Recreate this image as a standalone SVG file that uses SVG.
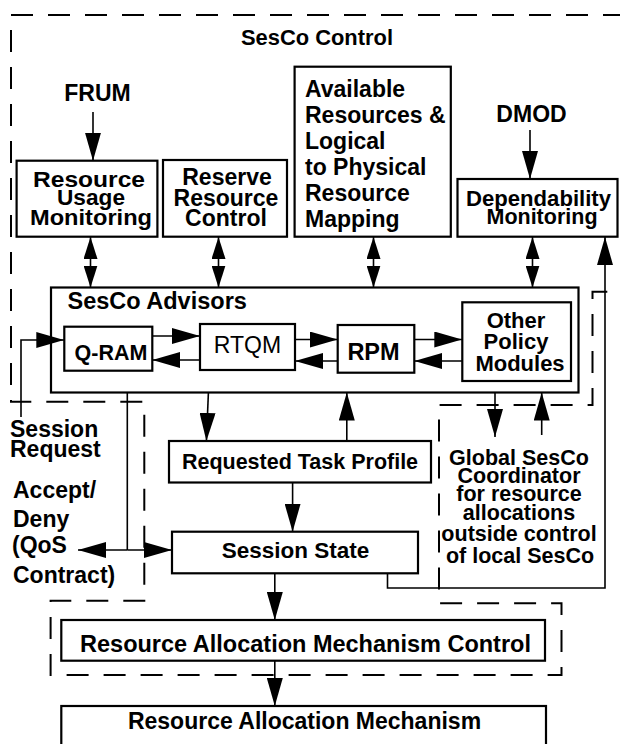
<svg xmlns="http://www.w3.org/2000/svg" width="620" height="744" viewBox="0 0 620 744">
<defs>
<style>
.box{fill:#fff;stroke:#000;stroke-width:2.2}
.dash{fill:none;stroke:#000;stroke-width:2;stroke-dasharray:22 15}
.ln{fill:none;stroke:#000;stroke-width:1.6}
.t{font-family:"Liberation Sans",Arial,Helvetica,sans-serif;font-weight:bold;font-size:23px;fill:#000}
.m{text-anchor:middle}
.reg{font-weight:normal}
.s22{font-size:22px}
.g{font-size:21.5px}
</style>
<marker id="ah" markerUnits="userSpaceOnUse" viewBox="0 0 28 16" markerWidth="28" markerHeight="16" refX="28" refY="8" orient="auto-start-reverse"><path d="M0,0 L28,8 L0,16 z" fill="#000"/></marker>
<marker id="ahs" markerUnits="userSpaceOnUse" viewBox="0 0 22 14" markerWidth="22" markerHeight="14" refX="22" refY="7" orient="auto-start-reverse"><path d="M0,0 L22,7 L0,14 z" fill="#000"/></marker>
</defs>
<rect width="620" height="744" fill="#fff"/>

<g id="sesco-control-region">
<path class="dash" d="M625 15 H11 V401.7 H144.3 V600.7 H50.6 V675 H561.5 V603.3 H439 V405 H592.5 V291.7 H625"/>
<text class="t" x="241" y="45" style="font-size:22px" textLength="152" lengthAdjust="spacingAndGlyphs">SesCo Control</text>
</g>

<g id="frum"><text class="t m" x="97.5" y="101">FRUM</text></g>
<g id="dmod"><text class="t m" x="531.5" y="122">DMOD</text></g>

<g id="resource-usage-monitoring">
<rect class="box" x="16.6" y="160.7" width="140.8" height="76"/>
<text class="t m s22" x="89" y="187" textLength="112" lengthAdjust="spacingAndGlyphs">Resource</text>
<text class="t m s22" x="91" y="205" textLength="68" lengthAdjust="spacingAndGlyphs">Usage</text>
<text class="t m s22" x="91" y="225" textLength="122" lengthAdjust="spacingAndGlyphs">Monitoring</text>
</g>

<g id="reserve-resource-control">
<rect class="box" x="163" y="160" width="124" height="76.7"/>
<text class="t m" x="227" y="185">Reserve</text>
<text class="t m" x="226" y="206">Resource</text>
<text class="t m" x="226" y="226">Control</text>
</g>

<g id="available-resources">
<rect class="box" x="294.6" y="66.7" width="156.2" height="170"/>
<text class="t" x="305" y="97">Available</text>
<text class="t" x="305" y="123">Resources &amp;</text>
<text class="t" x="305" y="149">Logical</text>
<text class="t" x="305" y="175">to Physical</text>
<text class="t" x="305" y="201">Resource</text>
<text class="t" x="305" y="227">Mapping</text>
</g>

<g id="dependability-monitoring">
<rect class="box" x="457.5" y="179" width="160" height="57.7"/>
<text class="t m g" x="538.5" y="206" textLength="145" lengthAdjust="spacingAndGlyphs">Dependability</text>
<text class="t m g" x="542" y="224">Monitoring</text>
</g>

<g id="sesco-advisors">
<rect class="box" x="51" y="287.5" width="527.5" height="105"/>
<text class="t" style="font-size:23.5px" x="67.5" y="308.5">SesCo Advisors</text>
</g>

<g id="q-ram">
<rect class="box" x="64.3" y="326.7" width="88" height="44"/>
<text class="t m" style="font-size:21.5px" x="111" y="359.5">Q-RAM</text>
</g>

<g id="rtqm">
<rect class="box" x="200" y="324" width="95" height="46"/>
<text class="t m reg" x="247.5" y="352.7">RTQM</text>
</g>

<g id="rpm">
<rect class="box" x="337.7" y="325" width="76.6" height="47.7"/>
<text class="t m" style="font-size:23.5px" x="373.5" y="359.5">RPM</text>
</g>

<g id="other-policy-modules">
<rect class="box" x="462.3" y="302.3" width="108.7" height="78.7"/>
<text class="t m s22" x="516" y="328">Other</text>
<text class="t m s22" x="516" y="348.5">Policy</text>
<text class="t m s22" x="520" y="371">Modules</text>
</g>

<g id="requested-task-profile">
<rect class="box" x="169" y="441" width="262" height="41.5"/>
<text class="t m" style="font-size:21.5px" x="300" y="468.5">Requested Task Profile</text>
</g>

<g id="session-state">
<rect class="box" x="172" y="531.7" width="246" height="41.6"/>
<text class="t m" style="font-size:22.5px" x="295.5" y="557.5">Session State</text>
</g>

<g id="session-request">
<text class="t" style="font-size:23px" x="10" y="437">Session</text>
<text class="t" style="font-size:23px" x="10" y="457">Request</text>
</g>

<g id="accept-deny">
<text class="t" x="13" y="498">Accept/</text>
<text class="t" x="13" y="526.5">Deny</text>
<text class="t" x="12" y="552.5">(QoS</text>
<text class="t" x="13" y="583">Contract)</text>
</g>

<g id="global-sesco-coordinator">
<text class="t m g" x="519" y="465">Global SesCo</text>
<text class="t m g" x="519" y="483">Coordinator</text>
<text class="t m g" x="519" y="501">for resource</text>
<text class="t m g" x="519" y="520">allocations</text>
<text class="t m g" x="519" y="541">outside control</text>
<text class="t m g" x="520" y="563">of local SesCo</text>
</g>

<g id="ram-control-region">
<rect class="box" x="61.3" y="620" width="483.7" height="40.7"/>
<text class="t m" style="font-size:23.5px" x="305.5" y="651.5">Resource Allocation Mechanism Control</text>
</g>

<g id="resource-allocation-mechanism">
<rect class="box" x="61.3" y="706" width="484.7" height="60"/>
<text class="t m" x="304.5" y="729">Resource Allocation Mechanism</text>
</g>

<g id="connectors">
<line class="ln" x1="93" y1="112" x2="93" y2="160.7" marker-end="url(#ah)"/>
<line class="ln" x1="530" y1="130" x2="530" y2="179" marker-end="url(#ah)"/>
<line class="ln" x1="90.5" y1="237" x2="90.5" y2="287.5" marker-start="url(#ahs)" marker-end="url(#ahs)"/>
<line class="ln" x1="218.5" y1="237" x2="218.5" y2="287.5" marker-start="url(#ahs)" marker-end="url(#ahs)"/>
<line class="ln" x1="373.5" y1="237" x2="373.5" y2="287.5" marker-start="url(#ahs)" marker-end="url(#ahs)"/>
<line class="ln" x1="532.5" y1="237" x2="532.5" y2="287.5" marker-start="url(#ahs)" marker-end="url(#ahs)"/>
<polyline class="ln" points="387.5,573.3 387.5,588 605,588 605,237" marker-end="url(#ah)"/>
<line class="ln" x1="152.3" y1="336" x2="200" y2="336" marker-end="url(#ah)"/>
<line class="ln" x1="200" y1="360" x2="152.3" y2="360" marker-end="url(#ah)"/>
<line class="ln" x1="295" y1="339.5" x2="337.7" y2="339.5" marker-end="url(#ah)"/>
<line class="ln" x1="337.7" y1="361" x2="295" y2="361" marker-end="url(#ah)"/>
<line class="ln" x1="414.3" y1="339.5" x2="462.3" y2="339.5" marker-end="url(#ah)"/>
<line class="ln" x1="462.3" y1="361" x2="414.3" y2="361" marker-end="url(#ah)"/>
<polyline class="ln" points="21,417 21,340 64.3,340" marker-end="url(#ah)"/>
<line class="ln" x1="208.4" y1="392.5" x2="206.4" y2="441" marker-end="url(#ah)"/>
<line class="ln" x1="346.8" y1="441" x2="346.8" y2="392.5" marker-end="url(#ah)"/>
<line class="ln" x1="292.6" y1="482.5" x2="292.6" y2="531.7" marker-end="url(#ah)"/>
<polyline class="ln" points="127.3,392.5 127.3,550"/>
<line class="ln" x1="127.3" y1="550" x2="78" y2="550" marker-end="url(#ah)"/>
<line class="ln" x1="127.3" y1="550" x2="172" y2="550" marker-end="url(#ah)"/>
<line class="ln" x1="495" y1="392.5" x2="495" y2="437" marker-end="url(#ah)"/>
<line class="ln" x1="541.7" y1="435" x2="541.7" y2="392.5" marker-end="url(#ah)"/>
<line class="ln" x1="274.8" y1="573.3" x2="274.8" y2="620" marker-end="url(#ah)"/>
<line class="ln" x1="274.8" y1="660.7" x2="274.8" y2="706" marker-end="url(#ah)"/>
</g>
</svg>
